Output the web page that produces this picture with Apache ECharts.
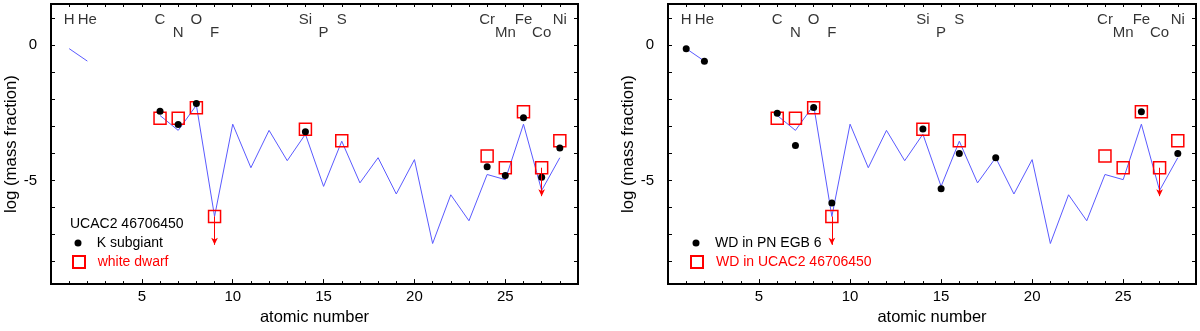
<!DOCTYPE html>
<html>
<head>
<meta charset="utf-8">
<script src="https://cdn.jsdelivr.net/npm/echarts@6/dist/echarts.min.js"></script>
<style>
  html, body { margin: 0; padding: 0; background: #fff; }
  #chart { width: 1200px; height: 331px; }
</style>
</head>
<body>
<div id="chart"></div>
<script>
// model abundance curve (null = no value, line breaks there)
var modelZ = [1, 2, 3, 4, 5, 6, 7, 8, 9, 10, 11, 12, 13, 14, 15, 16, 17, 18, 19, 20, 21, 22, 23, 24, 25, 26, 27, 28];
var modelLogX = [-0.13, -0.59, null, null, null, -2.60, -3.15, -2.22, -6.33, -2.92, -4.53, -3.15, -4.27, -3.29,
  -5.22, -3.55, -5.09, -4.16, -5.50, -4.23, -7.33, -5.53, -6.49, -4.78, -4.97, -2.92, -5.37, -4.16];

// K subgiant of UCAC2 46706450
var kSubZ = [6, 7, 8, 14, 24, 25, 26, 27, 28];
var kSubLogX = [-2.44, -2.93, -2.16, -3.20, -4.49, -4.82, -2.68, -4.88, -3.80];

// white dwarf in UCAC2 46706450
var wdZ = [6, 7, 8, 9, 14, 16, 24, 25, 26, 27, 28];
var wdLogX = [-2.70, -2.70, -2.31, -6.33, -3.11, -3.53, -4.10, -4.53, -2.46, -4.53, -3.53];
var wdLimitZ = [9, 27];   // upper limits (arrows)

// WD in PN EGB 6
var egbZ = [1, 2, 6, 7, 8, 9, 14, 15, 16, 18, 26, 28];
var egbLogX = [-0.13, -0.60, -2.52, -3.71, -2.30, -5.83, -3.10, -5.31, -4.00, -4.16, -2.46, -4.00];

// element labels on top
var elemNames = ['H', 'He', 'C', 'N', 'O', 'F', 'Si', 'P', 'S', 'Cr', 'Mn', 'Fe', 'Co', 'Ni'];
var elemZ = [1, 2, 6, 7, 8, 9, 14, 15, 16, 24, 25, 26, 27, 28];
var elemRow = [1, 1, 1, 2, 1, 2, 1, 2, 1, 1, 2, 1, 2, 1];

// axis ticks and labels
var xTicks = [1, 2, 3, 4, 5, 6, 7, 8, 9, 10, 11, 12, 13, 14, 15, 16, 17, 18, 19, 20, 21, 22, 23, 24, 25, 26, 27, 28];
var xLabels = [5, 10, 15, 20, 25];
var yTicks = [1, 0, -1, -2, -3, -4, -5, -6, -7, -8];
var yLabels = [0, -5];

var FONT = 'Liberation Sans, Arial, sans-serif';
var X_MIN = 0, X_MAX = 29, Y_MIN = -8.83, Y_MAX = 1.52;
var ROW_Y = { 1: 0.94, 2: 0.45 };
var ARROW_LEN = 1.05;
var BLUE = '#5a5aff', RED = '#ff0000';

function pairs(xs, ys) {
  return xs.map(function (x, i) { return [x, ys[i]]; });
}
function valueAt(xs, ys, z) {
  return ys[xs.indexOf(z)];
}

var grids = [
  { left: 51, top: 4, width: 527, height: 285 },
  { left: 668, top: 4, width: 528, height: 285 }
];

var xAxes = [], yAxes = [];
grids.forEach(function (g, gi) {
  var base = { type: 'value', gridIndex: gi, min: X_MIN, max: X_MAX,
    axisLine: { show: false, onZero: false }, splitLine: { show: false } };
  xAxes.push(Object.assign({}, base, {
    position: 'bottom',
    name: 'atomic number', nameLocation: 'middle', nameGap: 21,
    nameTextStyle: { fontSize: 16.5, color: '#000', fontFamily: FONT },
    axisTick: { inside: true, length: 3, customValues: xTicks, lineStyle: { color: '#000' } },
    axisLabel: { customValues: xLabels, margin: 5, fontSize: 15, color: '#000', fontFamily: FONT }
  }));
  xAxes.push(Object.assign({}, base, {
    position: 'top',
    axisTick: { inside: true, length: 3, customValues: xTicks, lineStyle: { color: '#000' } },
    axisLabel: { show: false }
  }));
  xAxes.push(Object.assign({}, base, {
    position: 'bottom',
    axisTick: { inside: true, length: 5, customValues: xLabels, lineStyle: { color: '#000' } },
    axisLabel: { show: false }
  }));
  var ybase = { type: 'value', gridIndex: gi, min: Y_MIN, max: Y_MAX,
    axisLine: { show: false, onZero: false }, splitLine: { show: false } };
  yAxes.push(Object.assign({}, ybase, {
    position: 'left',
    name: 'log (mass fraction)', nameLocation: 'middle', nameGap: 30,
    nameTextStyle: { fontSize: 16.8, color: '#000', fontFamily: FONT },
    axisTick: { inside: true, length: 4, customValues: yTicks, lineStyle: { color: '#000' } },
    axisLabel: { customValues: yLabels, margin: 14, fontSize: 15, color: '#000', fontFamily: FONT }
  }));
  yAxes.push(Object.assign({}, ybase, {
    position: 'right',
    axisTick: { inside: true, length: 4, customValues: yTicks, lineStyle: { color: '#000' } },
    axisLabel: { show: false }
  }));
});

function panelSeries(gi, dotName, dotZ, dotVals) {
  var xi = gi * 3, yi = gi * 2;
  return [
    {
      type: 'line', name: 'model', xAxisIndex: xi, yAxisIndex: yi,
      data: pairs(modelZ, modelLogX), showSymbol: false, symbol: 'none',
      connectNulls: false, lineStyle: { color: BLUE, width: 1 }, z: 2, silent: true
    },
    {
      type: 'scatter', name: gi === 0 ? 'white dwarf' : 'WD in UCAC2 46706450',
      xAxisIndex: xi, yAxisIndex: yi,
      data: pairs(wdZ, wdLogX), symbol: 'rect', symbolSize: 12,
      itemStyle: { color: 'rgba(0,0,0,0)', borderColor: RED, borderWidth: 1.5, opacity: 1 },
      z: 3,
      markLine: {
        silent: true, symbol: ['none', 'arrow'], symbolSize: [5, 7],
        lineStyle: { color: RED, width: 1, type: 'solid' },
        label: { show: false },
        data: wdLimitZ.map(function (z) {
          var v = valueAt(wdZ, wdLogX, z);
          return [{ coord: [z, v] }, { coord: [z, v - ARROW_LEN] }];
        })
      }
    },
    {
      type: 'scatter', name: dotName, xAxisIndex: xi, yAxisIndex: yi,
      data: pairs(dotZ, dotVals), symbol: 'circle', symbolSize: 7,
      itemStyle: { color: '#000', opacity: 1 }, z: 4
    },
    {
      type: 'scatter', name: 'elements', xAxisIndex: xi, yAxisIndex: yi,
      data: elemZ.map(function (z, i) { return [z, ROW_Y[elemRow[i]], elemNames[i]]; }),
      symbolSize: 1, itemStyle: { color: 'rgba(0,0,0,0)' }, silent: true,
      label: {
        show: true, position: 'inside', fontSize: 15, color: '#000', fontFamily: FONT,
        formatter: function (p) { return p.data[2]; }
      }
    }
  ];
}

function legendItem(name, left, top, size, pad, color) {
  return {
    data: [name], orient: 'vertical', left: left, top: top, padding: 0,
    itemWidth: size, itemHeight: size, selectedMode: false,
    textStyle: { fontSize: 14, color: color, fontFamily: FONT, padding: [0, 0, 0, pad] }
  };
}

var chart = echarts.init(document.getElementById('chart'), null, { renderer: 'canvas' });
chart.setOption({
  animation: false,
  backgroundColor: '#fff',
  title: {
    text: 'UCAC2 46706450', left: 70, top: 217, padding: 0,
    textStyle: { fontSize: 14, fontWeight: 'normal', color: '#000', fontFamily: FONT }
  },
  legend: [
    legendItem('K subgiant', 74.5, 236, 7, 10.2, '#000'),
    legendItem('white dwarf', 72, 255, 12, 7.7, RED),
    legendItem('WD in PN EGB 6', 692.5, 236, 7, 10.5, '#000'),
    legendItem('WD in UCAC2 46706450', 690, 255, 12, 8, RED)
  ],
  grid: grids.map(function (g) {
    return Object.assign({ show: true, borderColor: '#000', borderWidth: 2, backgroundColor: 'transparent' }, g);
  }),
  xAxis: xAxes,
  yAxis: yAxes,
  series: panelSeries(0, 'K subgiant', kSubZ, kSubLogX)
    .concat(panelSeries(1, 'WD in PN EGB 6', egbZ, egbLogX))
});
</script>
</body>
</html>
